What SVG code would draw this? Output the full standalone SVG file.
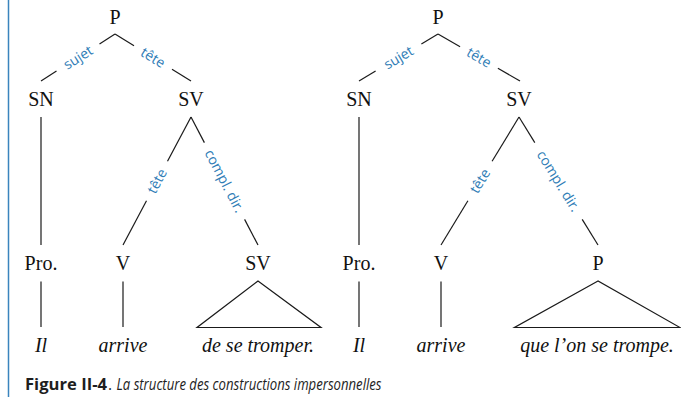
<svg xmlns="http://www.w3.org/2000/svg" width="681" height="397" viewBox="0 0 681 397">
  <style>
    .cat { font-family: "Liberation Serif", "Times New Roman", serif; font-size: 20px; fill: #111; text-anchor: middle; }
    .word { font-family: "Liberation Serif", "Times New Roman", serif; font-size: 20px; font-style: italic; fill: #111; text-anchor: middle; }
    .fn { font-family: "Open Sans", "Liberation Sans", sans-serif; font-size: 14px; fill: #2f7db6; text-anchor: middle; }
    .edge { stroke: #1a1a1a; stroke-width: 1.2; fill: none; }
    .cap { font-family: "Open Sans", "Liberation Sans", sans-serif; font-size: 15.5px; fill: #1e1e1e; }
  </style>

  <!-- margin rule -->
  <line x1="8.5" y1="0" x2="8.5" y2="397" stroke="#3a84bd" stroke-width="1.5"/>

  <!-- ===== Tree 1 : Il arrive de se tromper. ===== -->
  <g id="connectors-1">
    <!-- P -> SN (sujet) -->
    <line class="edge" x1="115" y1="34" x2="99.5" y2="43.9"/>
    <line class="edge" x1="56.5" y1="71.1" x2="41" y2="81"/>
    <!-- P -> SV (tête) -->
    <line class="edge" x1="115" y1="34" x2="134" y2="45.75"/>
    <line class="edge" x1="172" y1="69.25" x2="191" y2="81"/>
    <!-- SN -> Pro. -->
    <line class="edge" x1="41" y1="117" x2="41" y2="245"/>
    <!-- SV -> V (tête) -->
    <line class="edge" x1="191" y1="117" x2="167.5" y2="161.2"/>
    <line class="edge" x1="146.5" y1="200.8" x2="123" y2="245"/>
    <!-- SV -> SV (compl. dir.) -->
    <line class="edge" x1="191" y1="117" x2="204.4" y2="142.6"/>
    <line class="edge" x1="244.6" y1="219.4" x2="258" y2="245"/>
    <!-- leaves -->
    <line class="edge" x1="41" y1="281.5" x2="41" y2="327"/>
    <line class="edge" x1="123" y1="281.5" x2="123" y2="327"/>
    <polygon class="edge" points="258,281 197,327.5 321,327.5"/>
    <!-- function labels -->
    <text class="fn" transform="translate(78,57.5) rotate(-32.4)" dy="0.35em">sujet</text>
    <text class="fn" transform="translate(153,57.5) rotate(31.7)" dy="0.35em">tête</text>
    <text class="fn" transform="translate(157,181) rotate(-62)" dy="0.35em">tête</text>
    <text class="fn" transform="translate(224.5,181) rotate(62.4)" dy="0.35em">compl. dir.</text>
  </g>

  <g id="t1-P"><text class="cat" x="115" y="24">P</text></g>
  <g id="t1-SN"><text class="cat" x="41" y="106">SN</text></g>
  <g id="t1-SV"><text class="cat" x="191" y="106">SV</text></g>
  <g id="t1-Pro"><text class="cat" x="41" y="270">Pro.</text></g>
  <g id="t1-V"><text class="cat" x="123" y="270">V</text></g>
  <g id="t1-SV2"><text class="cat" x="258" y="270">SV</text></g>
  <g id="t1-Il"><text class="word" x="41" y="352">Il</text></g>
  <g id="t1-arrive"><text class="word" x="123" y="352">arrive</text></g>
  <g id="t1-compl"><text class="word" x="258" y="352">de se tromper.</text></g>

  <!-- ===== Tree 2 : Il arrive que l'on se trompe. ===== -->
  <g id="connectors-2">
    <!-- P -> SN (sujet) -->
    <line class="edge" x1="438" y1="34" x2="421.4" y2="43.9"/>
    <line class="edge" x1="375.6" y1="71.1" x2="359" y2="81"/>
    <!-- P -> SV (tête) -->
    <line class="edge" x1="438" y1="34" x2="460.1" y2="46.7"/>
    <line class="edge" x1="497.9" y1="68.3" x2="520" y2="81"/>
    <!-- SN -> Pro. -->
    <line class="edge" x1="359" y1="117" x2="359" y2="245"/>
    <!-- SV -> V (tête) -->
    <line class="edge" x1="519" y1="117" x2="492.1" y2="161.2"/>
    <line class="edge" x1="467.9" y1="200.8" x2="441" y2="245"/>
    <!-- SV -> P (compl. dir.) -->
    <line class="edge" x1="519" y1="117" x2="534.8" y2="142.6"/>
    <line class="edge" x1="582.2" y1="219.4" x2="598" y2="245"/>
    <!-- leaves -->
    <line class="edge" x1="359" y1="281.5" x2="359" y2="327"/>
    <line class="edge" x1="441" y1="281.5" x2="441" y2="327"/>
    <polygon class="edge" points="598,281 514.5,327.5 680,327.5"/>
    <!-- function labels -->
    <text class="fn" transform="translate(398.5,57.5) rotate(-30.75)" dy="0.35em">sujet</text>
    <text class="fn" transform="translate(479,57.5) rotate(29.8)" dy="0.35em">tête</text>
    <text class="fn" transform="translate(480,181) rotate(-58.6)" dy="0.35em">tête</text>
    <text class="fn" transform="translate(558.5,181) rotate(58.3)" dy="0.35em">compl. dir.</text>
  </g>

  <g id="t2-P"><text class="cat" x="438" y="24">P</text></g>
  <g id="t2-SN"><text class="cat" x="359" y="106">SN</text></g>
  <g id="t2-SV"><text class="cat" x="519" y="106">SV</text></g>
  <g id="t2-Pro"><text class="cat" x="359" y="270">Pro.</text></g>
  <g id="t2-V"><text class="cat" x="441" y="270">V</text></g>
  <g id="t2-P2"><text class="cat" x="598" y="270">P</text></g>
  <g id="t2-Il"><text class="word" x="359" y="352">Il</text></g>
  <g id="t2-arrive"><text class="word" x="441" y="352">arrive</text></g>
  <g id="t2-compl"><text class="word" x="597" y="352">que l’on se trompe.</text></g>

  <!-- caption -->
  <g id="caption">
    <text class="cap" x="25" y="390" font-weight="bold" textLength="82" lengthAdjust="spacingAndGlyphs">Figure II-4</text>
    <text class="cap" x="108" y="390">.</text>
    <text class="cap" x="116.5" y="390" font-style="italic" textLength="265" lengthAdjust="spacingAndGlyphs">La structure des constructions impersonnelles</text>
  </g>
</svg>
